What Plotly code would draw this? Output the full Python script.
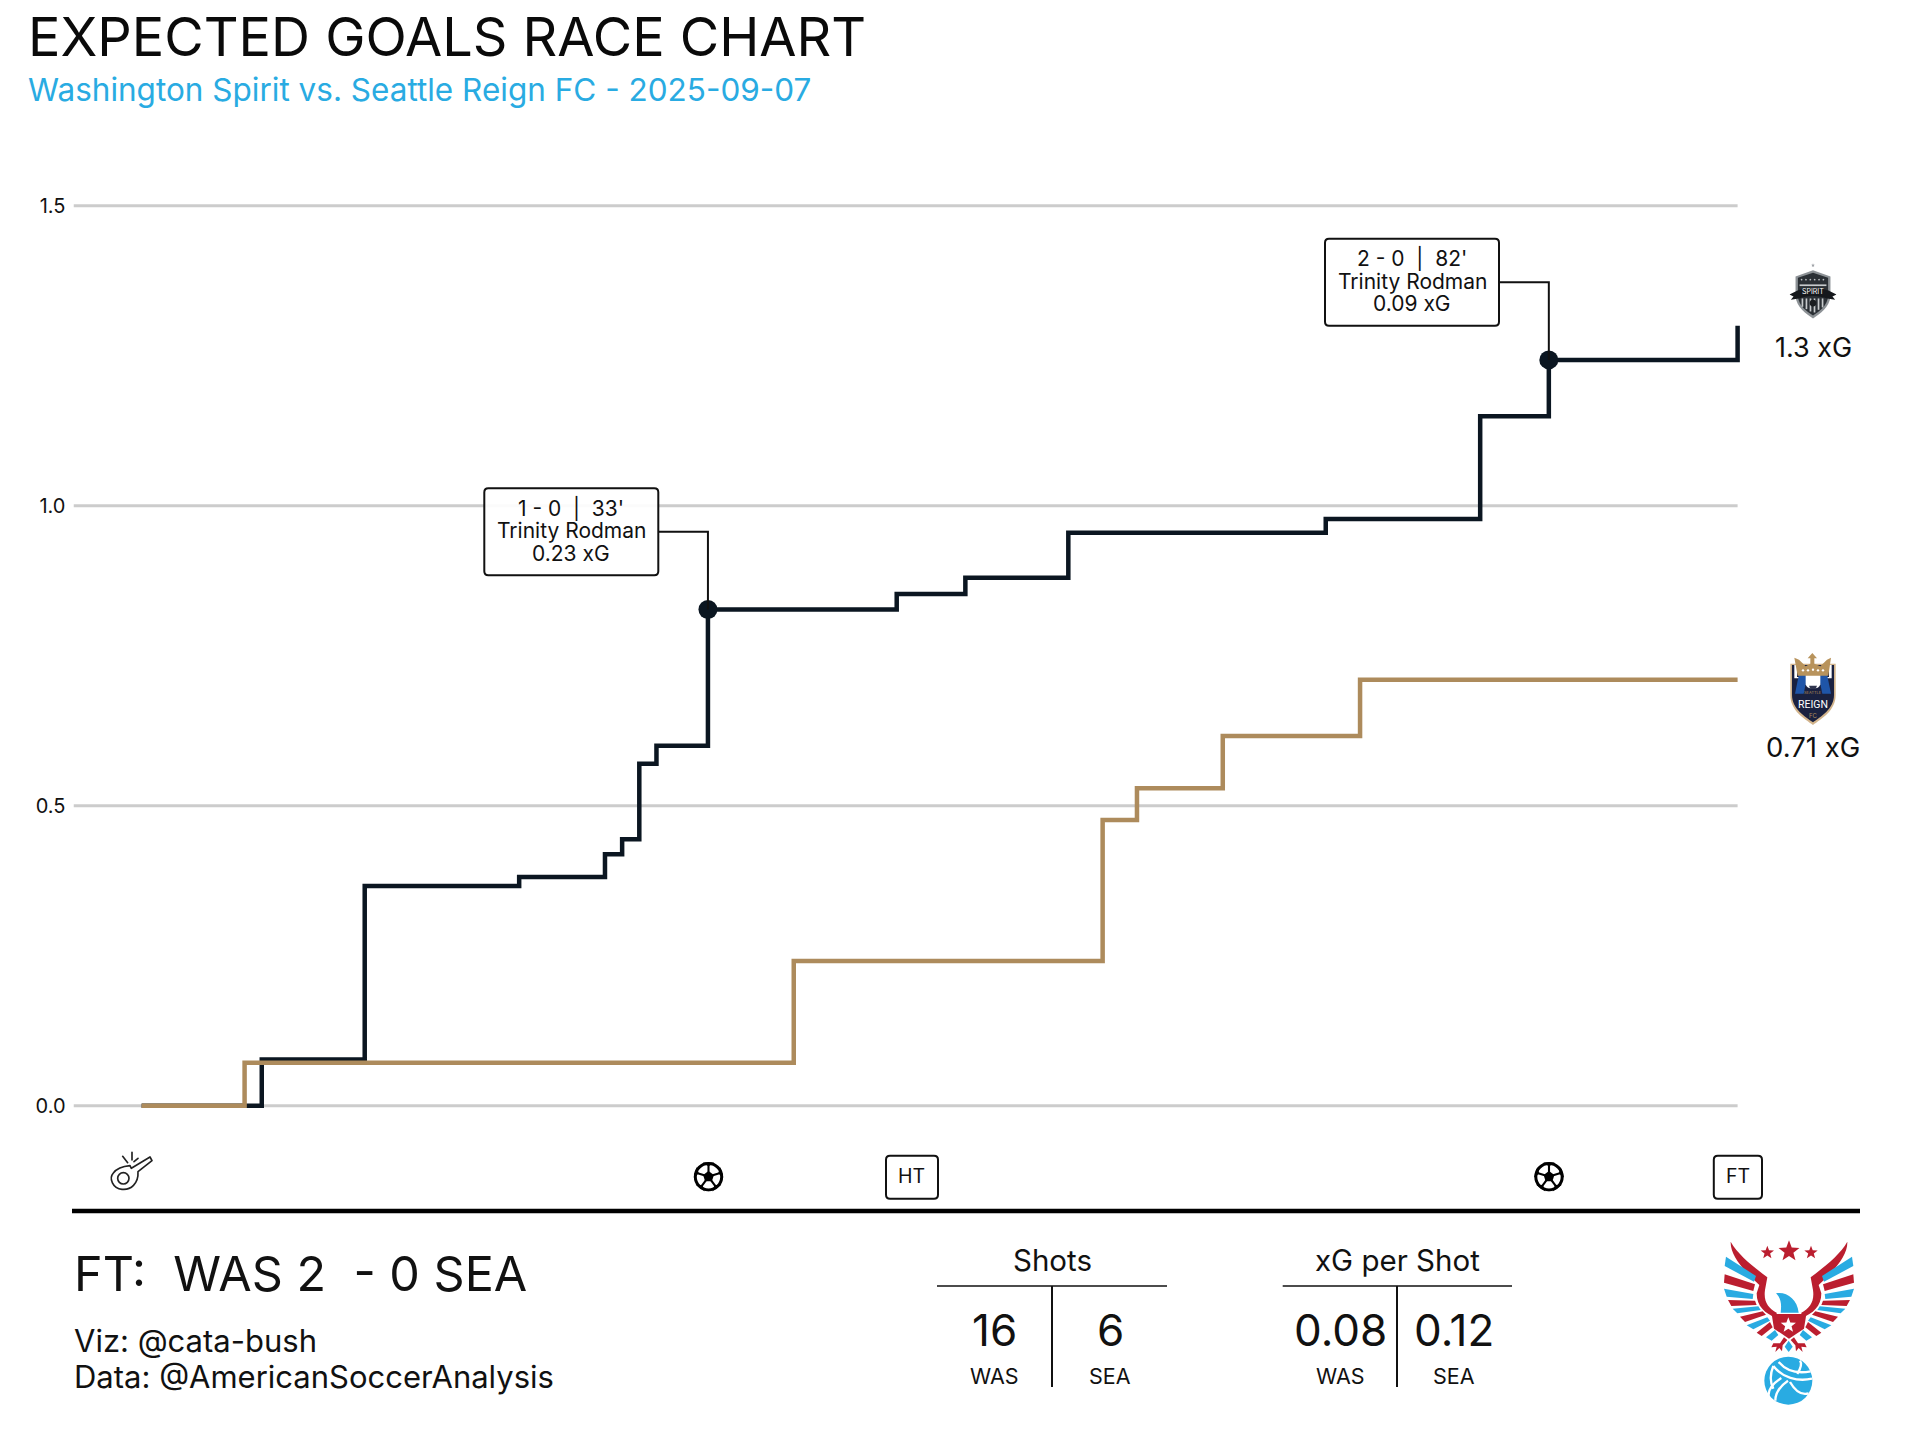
import base64, math
import plotly.graph_objects as go

W, H = 1920, 1439
FONT = "Inter"
INK = "#111111"
NAVY = "#0b1621"
GOLD = "#ad8b5c"
SKY = "#29abe2"
RED = "#bb1e2f"

# ---- data ----
minutes_was = [0, 7, 13, 22, 27, 28, 29, 30, 33, 44, 48, 54, 69, 78, 82, 93]
xg_was = [0, 0.077, 0.366, 0.381, 0.419, 0.444, 0.57, 0.60, 0.827, 0.853, 0.880, 0.955, 0.978, 1.149, 1.243, 1.30]
minutes_sea = [0, 6, 38, 56, 58, 63, 71, 93]
xg_sea = [0, 0.0717, 0.241, 0.476, 0.529, 0.616, 0.71, 0.71]
goal_minutes = [33, 82]
goal_xg = [0.827, 1.243]
goal_scores = ["1 - 0  |  33'", "2 - 0  |  82'"]
goal_scorers = ["Trinity Rodman", "Trinity Rodman"]
goal_shot_xg = ["0.23 xG", "0.09 xG"]
y_ticks = [0, 0.5, 1.0, 1.5]
y_tick_labels = ["0.0", "0.5", "1.0", "1.5"]


def px(x):
    return x / W


def py(y):
    return 1 - y / H


def svg_uri(body, vw, vh):
    s = f'<svg xmlns="http://www.w3.org/2000/svg" viewBox="0 0 {vw} {vh}" width="{vw*4}" height="{vh*4}">{body}</svg>'
    return "data:image/svg+xml;base64," + base64.b64encode(s.encode()).decode()


def image(body, vw, vh, x, y, w, h):
    return dict(source=svg_uri(body, vw, vh), xref="paper", yref="paper", x=px(x), y=py(y),
                sizex=w / W, sizey=h / H, xanchor="left", yanchor="top", sizing="stretch", layer="above")


def star(cx, cy, r, fill):
    pts = []
    for i in range(10):
        a = -math.pi / 2 + i * math.pi / 5
        rr = r if i % 2 == 0 else r * 0.42
        pts.append(f"{cx + rr * math.cos(a):.1f},{cy + rr * math.sin(a):.1f}")
    return f'<polygon points="{" ".join(pts)}" fill="{fill}"/>'


def ball_svg():
    b = '<circle cx="50" cy="50" r="44" fill="#fff" stroke="#000" stroke-width="10"/>'
    pent = []
    for i in range(5):
        a = -math.pi / 2 + i * 2 * math.pi / 5
        c, s = math.cos(a), math.sin(a)
        t = -s, c
        pent.append(f"{50 + 19 * c:.1f},{50 + 19 * s:.1f}")
        # black edge patch on the rim, joined by a seam to the corner of the centre patch
        p = [(50 + 47 * c + 19 * t[0], 50 + 47 * s + 19 * t[1]), (50 + 47 * c - 19 * t[0], 50 + 47 * s - 19 * t[1]),
             (50 + 34 * c, 50 + 34 * s)]
        b += f'<polygon points="{" ".join(f"{u:.1f},{v:.1f}" for u, v in p)}" fill="#000"/>'
        b += (f'<line x1="{50 + 15 * c:.1f}" y1="{50 + 15 * s:.1f}" x2="{50 + 38 * c:.1f}" y2="{50 + 38 * s:.1f}" '
              'stroke="#000" stroke-width="7"/>')
    b += f'<polygon points="{" ".join(pent)}" fill="#000"/>'
    return b


WHISTLE = (
    '<g fill="none" stroke="#222" stroke-width="5" stroke-linejoin="round" stroke-linecap="round">'
    '<path d="M90 62 L94 70 L150 36 L156 47 L114 80 C116 116 92 136 66 133 C38 130 26 100 40 84 C50 71 70 64 90 62Z"/>'
    '<circle cx="70" cy="100" r="17"/>'
    '<path d="M68 34 L83 53 M96 22 L96 45 M114 40 L102 50"/></g>'
)

SPIRIT = (
    star(70, 25, 6, "#9a9ea3")
    + '<path d="M18 58 L70 40 L122 58 L122 120 C118 150 92 170 70 184 C48 170 22 150 18 120Z" fill="#8d9296"/>'
    '<path d="M25 62 L70 47 L115 62 L115 118 C112 146 90 162 70 175 C50 162 28 146 25 118Z" fill="#2b3035"/>'
    + "".join(star(x, 68, 3.6, "#d2d5d7") for x in range(36, 110, 13))
    + '<rect x="30" y="82" width="80" height="5" fill="#c7cacc"/>'
    + "".join(f'<rect x="{x}" y="124" width="5" height="{44 - abs(x - 68)*0.6:.0f}" fill="#c7cacc"/>' for x in range(36, 106, 12))
    + '<circle cx="70" cy="138" r="10" fill="#1a1d20"/>'
    '<path d="M0 112 L24 100 C50 90 90 90 116 100 L140 112 L128 118 L136 128 L112 124 C90 114 50 114 28 124 L4 128 L12 118Z" fill="#15181c"/>'
)

REIGN = (
    '<path d="M4 56 H140 V150 C140 198 96 222 72 240 C48 222 4 198 4 150Z" fill="#d2b48c"/>'
    '<path d="M9 60 H135 V150 C135 192 94 216 72 232 C50 216 9 192 9 150Z" fill="#1a2140"/>'
    '<path d="M16 60 L24 60 L24 96 L120 96 L120 60 L128 60 L128 100 L16 100Z" fill="#fff"/>'
    '<path d="M30 88 L18 146 L44 146 L56 88Z M114 88 L126 146 L100 146 L88 88Z" fill="#1f55a8"/>'
    '<path d="M50 88 H94 V118 C90 136 54 136 50 118Z" fill="#fff"/>'
    '<path d="M60 122 H84 L80 132 H64Z" fill="#30364f"/>'
    '<path d="M70 24 L84 40 L76 40 L76 56 L94 64 L114 44 L126 38 L118 92 L26 92 L16 38 L30 44 L50 64 L64 56 L64 40 L56 40Z" fill="#b8935c"/>'
    + "".join(f'<circle cx="{x}" cy="{y}" r="3.5" fill="#fff"/>' for x, y in [(42, 76), (57, 76), (72, 74), (87, 76), (102, 76)])
)


def feather(d):
    return f'<path d="{d}"/>'


left_red = ["M62 35 C60 80 110 130 148 165 L140 190 C140 230 165 250 200 265 L200 248 C175 235 160 215 165 180 L172 142 C130 110 85 75 62 35Z",
            "M44 133 L135 163 L130 183 L42 158Z", "M54 210 L135 212 L140 225 L64 228Z",
            "M90 260 L158 244 L168 254 L105 276Z", "M140 308 L180 276 L188 292 L155 318Z"]
left_blue = ["M48 80 L138 138 L132 155 L44 108Z", "M42 176 L130 192 L128 207 L50 200Z",
             "M68 236 L145 229 L152 240 L82 250Z", "M110 286 L172 262 L180 272 L130 298Z",
             "M168 322 L195 300 L205 315 L185 332Z"]
talon = ('<path d="M222 322 L210 340 L190 340 L184 352 L200 350 L196 366 L208 354 L216 364 L218 346 L232 330Z"/>')
wing = (f'<g fill="{RED}">' + "".join(feather(d) for d in left_red) + talon + '</g>'
        f'<g fill="{SKY}">' + "".join(feather(d) for d in left_blue) + '</g>')
EAGLE = (
    wing + f'<g transform="translate(474,0) scale(-1,1)">{wing}</g>'
    + star(172, 68, 21, RED) + star(237, 64, 33, RED) + star(303, 68, 21, RED)
    + f'<path d="M185 252 H289 L282 296 L237 326 L192 296Z" fill="{RED}"/>'
    + star(235, 286, 24, "#ffffff")
    + f'<path d="M198 190 C228 184 262 206 266 248 L212 248 C214 228 216 208 198 190Z" fill="{SKY}"/>'
    + f'<path d="M236 332 L248 350 L236 366 L224 350Z" fill="{SKY}"/>'
)
VOLLEY = (
    f'<circle cx="235" cy="452" r="72" fill="{SKY}"/>'
    '<g fill="none" stroke="#fff" stroke-width="7">'
    '<path d="M206 396 C230 424 262 432 302 424"/><path d="M190 408 C216 442 262 456 306 446"/>'
    '<path d="M234 452 C208 470 196 490 196 512"/><path d="M214 444 C186 462 174 480 176 498"/>'
    '<path d="M240 456 C256 484 276 496 296 490"/><path d="M190 408 C180 432 180 456 190 476"/>'
    '<path d="M262 432 C274 412 276 400 270 392"/>'
    '</g>'
)

images = [
    image(WHISTLE, 180, 165, 100, 1145, 60, 55),
    image(ball_svg(), 100, 100, 693.5, 1161.7, 30, 30),
    image(ball_svg(), 100, 100, 1534, 1161.7, 30, 30),
    image(SPIRIT, 140, 190, 1789.5, 257, 47, 63.5),
    image(REIGN, 144, 240, 1789, 645, 48, 80),
    image(EAGLE + VOLLEY, 480, 570, 1710, 1230, 160, 190),
]

fig = go.Figure()
fig.add_trace(go.Scatter(x=minutes_was, y=xg_was, mode="lines", line=dict(color=NAVY, width=4.5, shape="hv"),
                         cliponaxis=False, showlegend=False, hoverinfo="skip"))
fig.add_trace(go.Scatter(x=minutes_sea, y=xg_sea, mode="lines", line=dict(color=GOLD, width=4.5, shape="hv"),
                         cliponaxis=False, showlegend=False, hoverinfo="skip"))
fig.add_trace(go.Scatter(x=goal_minutes, y=goal_xg, mode="markers", marker=dict(color=NAVY, size=19),
                         cliponaxis=False, showlegend=False, hoverinfo="skip"))


def rrect(x0, y0, x1, y1, r, **kw):
    X0, X1 = px(x0), px(x1)
    Y0, Y1 = py(y0), py(y1)
    rx, ry = r / W, r / H
    path = (f"M{X0+rx},{Y0} L{X1-rx},{Y0} Q{X1},{Y0} {X1},{Y0-ry} L{X1},{Y1+ry} Q{X1},{Y1} {X1-rx},{Y1} "
            f"L{X0+rx},{Y1} Q{X0},{Y1} {X0},{Y1+ry} L{X0},{Y0-ry} Q{X0},{Y0} {X0+rx},{Y0} Z")
    return dict(type="path", xref="paper", yref="paper", path=path, **kw)


def hline(x0, x1, y, width=1.5, color="#111111"):
    return dict(type="line", xref="paper", yref="paper", x0=px(x0), x1=px(x1), y0=py(y), y1=py(y),
                line=dict(color=color, width=width), layer="above")


def vline(x, y0, y1, width=2, color="#111111"):
    return dict(type="line", xref="paper", yref="paper", x0=px(x), x1=px(x), y0=py(y0), y1=py(y1),
                line=dict(color=color, width=width), layer="above")


boxes = [(484.3, 488.3, 658.3, 575.3), (1325, 238.8, 1499, 325.7)]
shapes = []
annos = []


def txt(x, y, text, size, anchor="center", color=INK, family=None):
    annos.append(dict(xref="paper", yref="paper", x=px(x), y=py(y), text=text, showarrow=False,
                      font=dict(family=family or FONT, size=size, color=color), xanchor=anchor, yanchor="middle",
                      align=anchor))


X_LEFT, X_RIGHT = -3.97, 93
PX_MIN = 17.16
X0 = 141.6

# gridlines stop at full time; the x axis runs a little past it so line ends are not clipped
for t in y_ticks:
    shapes.append(dict(type="line", xref="x", yref="y", x0=X_LEFT, x1=X_RIGHT, y0=t, y1=t, layer="below",
                       line=dict(color="#cccccc", width=3)))

# goal callouts
for (x0, y0, x1, y1), m, g, a, b, c in zip(boxes, goal_minutes, goal_xg, goal_scores, goal_scorers, goal_shot_xg):
    yc = (y0 + y1) / 2
    shapes.append(dict(type="path", xref="x", yref="y", layer="above", line=dict(color="#111111", width=2),
                       path=f"M{(x1 - X0) / PX_MIN},{(1105.7 - yc) / 600} L{m},{(1105.7 - yc) / 600} L{m},{g}"))
    shapes.append(rrect(x0, y0, x1, y1, 4, fillcolor="rgba(255,255,255,0.92)", line=dict(color="#111111", width=2), layer="above"))
    xc = (x0 + x1) / 2
    txt(xc, yc - 24, a, 21)
    txt(xc, yc - 1, b, 21)
    txt(xc, yc + 21.5, c, 21)

# HT / FT boxes
shapes.append(rrect(886, 1155.7, 938, 1198.7, 4, fillcolor="#fff", line=dict(color="#111111", width=2), layer="above"))
shapes.append(rrect(1713.8, 1155.7, 1762, 1198.7, 4, fillcolor="#fff", line=dict(color="#111111", width=2), layer="above"))
txt(911, 1176, "HT", 19.5)
txt(1737.5, 1176, "FT", 19.5)

# separator and tables
shapes.append(hline(72, 1860, 1211, width=4.5, color="#000000"))
for xl, xr, xc in [(937, 1167, 1052), (1282.7, 1512, 1397)]:
    shapes.append(hline(xl, xr, 1286))
    shapes.append(vline(xc, 1286, 1387))

txt(25.5, 36, "EXPECTED GOALS RACE CHART", 54, "left", "#0a0a0a")
txt(26, 89.5, "Washington Spirit vs. Seattle Reign FC - 2025-09-07", 31.5, "left", SKY)
txt(1813, 347.5, "1.3 xG", 27)
txt(1813, 747, "0.71 xG", 27.5)
txt(72, 1273, "FT:  WAS 2  - 0 SEA", 48.5, "left")
txt(72, 1340, "Viz: @cata-bush", 31, "left")
txt(72, 1376, "Data: @AmericanSoccerAnalysis", 31, "left")
txt(1052, 1260, "Shots", 29.5)
txt(1397, 1260, "xG per Shot", 29.5)
txt(994, 1330, "16", 44)
txt(1110, 1330, "6", 44)
txt(1340, 1330, "0.08", 44)
txt(1454, 1330, "0.12", 44)
for xc, t in [(994, "WAS"), (1110, "SEA"), (1340, "WAS"), (1454, "SEA")]:
    txt(xc, 1376, t, 21.5)
txt(1813, 291, "SPIRIT", 7, color="#ffffff")
txt(1813, 704, "REIGN", 10.5, color="#ffffff", family="Roboto")
txt(1813, 692, "SEATTLE", 4, color=GOLD)
txt(1813, 715, "FC", 6, color=GOLD)

pad = 0.05
dom_bottom = 1105.7 + 600 * pad
dom_top = 205.7 - 600 * pad

fig.update_layout(
    width=W, height=H, autosize=False,
    margin=dict(l=0, r=0, t=0, b=0),
    paper_bgcolor="#ffffff", plot_bgcolor="#ffffff",
    showlegend=False,
    xaxis=dict(domain=[px(73.5), px(1737.6 + PX_MIN)], range=[X_LEFT, X_RIGHT + 1], visible=False, fixedrange=True),
    yaxis=dict(domain=[py(dom_bottom), py(dom_top)], range=[-pad, 1.5 + pad], tickmode="array", tickvals=y_ticks,
               ticktext=y_tick_labels, showgrid=False, zeroline=False, ticklabelstandoff=7,
               showline=False, ticks="", tickfont=dict(family=FONT, size=20, color=INK), fixedrange=True),
    shapes=shapes, annotations=annos, images=images,
)

fig.write_html("out.html", config=dict(displayModeBar=False),
               post_script="document.body.style.margin='0';")
